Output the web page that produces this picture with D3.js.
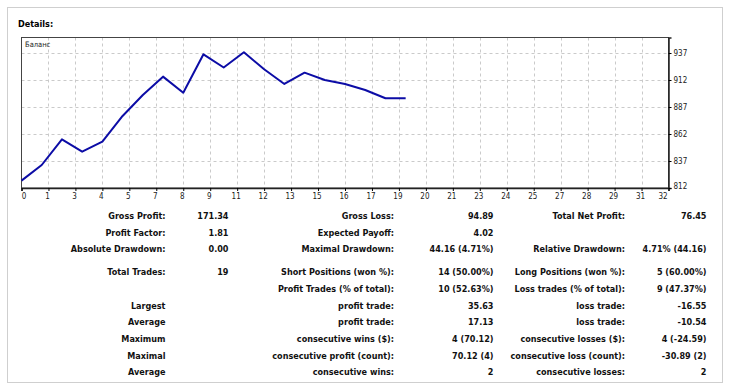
<!DOCTYPE html>
<html>
<head>
<meta charset="utf-8">
<script src="https://cdn.jsdelivr.net/npm/d3@7"></script>
<style>
  body { margin: 0; background: #fff; }
  svg text { font-family: Tahoma, "DejaVu Sans Condensed", "DejaVu Sans", sans-serif; }
</style>
</head>
<body>
<div id="chart"></div>
<script>
// balance after each trade (index 0 = start)
var balance = [818.8, 833.3, 857.1, 845.6, 854.9, 878.7, 898.1, 915.1, 900.2, 935.8,
               923.6, 937.7, 921.9, 908.3, 918.8, 912.0, 908.3, 902.7, 895.1, 895.1];

var xTickLabels = [0, 1, 3, 4, 5, 7, 8, 9, 11, 12, 13, 15, 16, 17, 19, 20, 21, 23, 24, 25, 27, 28, 29, 31, 32];
var yTickValues = [812, 837, 862, 887, 912, 937];

var statsRows = [
  ["Gross Profit:", "171.34", "Gross Loss:", "94.89", "Total Net Profit:", "76.45"],
  ["Profit Factor:", "1.81", "Expected Payoff:", "4.02", "", ""],
  ["Absolute Drawdown:", "0.00", "Maximal Drawdown:", "44.16 (4.71%)", "Relative Drawdown:", "4.71% (44.16)"],
  ["Total Trades:", "19", "Short Positions (won %):", "14 (50.00%)", "Long Positions (won %):", "5 (60.00%)"],
  ["", "", "Profit Trades (% of total):", "10 (52.63%)", "Loss trades (% of total):", "9 (47.37%)"],
  ["Largest", "", "profit trade:", "35.63", "loss trade:", "-16.55"],
  ["Average", "", "profit trade:", "17.13", "loss trade:", "-10.54"],
  ["Maximum", "", "consecutive wins ($):", "4 (70.12)", "consecutive losses ($):", "4 (-24.59)"],
  ["Maximal", "", "consecutive profit (count):", "70.12 (4)", "consecutive loss (count):", "-30.89 (2)"],
  ["Average", "", "consecutive wins:", "2", "consecutive losses:", "2"]
];

const WIDTH = 729;
const HEIGHT = 389;

const PLOT_LEFT = 21.5;
const PLOT_RIGHT = 668.5;
const PLOT_TOP = 37.5;
const PLOT_BOTTOM = 188;

// right edges of the six table columns
const COL_X = [165.5, 228.5, 394, 493.5, 625, 706.5];

var svg = d3.select("#chart")
    .append("svg")
    .attr("width", WIDTH)
    .attr("height", HEIGHT);

// outer panel
svg.append("rect")
    .attr("x", 7.5).attr("y", 7.5)
    .attr("width", 715).attr("height", 375)
    .attr("fill", "none")
    .attr("stroke", "#cfcfcf");

svg.append("text")
    .attr("x", 18).attr("y", 26.5)
    .style("font-size", "9px")
    .style("font-weight", "bold")
    .text("Details:");

var xScale = d3.scaleLinear().domain([0, 32]).range([PLOT_LEFT, PLOT_RIGHT]),
    yScale = d3.scaleLinear().domain([812, 812 + (PLOT_BOTTOM - PLOT_TOP) * 25 / 27]).range([PLOT_BOTTOM, PLOT_TOP]);

// grid positions for the x labels (24 equal steps over 0..32)
var xGridValues = xTickLabels.map(function (d, i) { return i * 32 / 24; });

var grid = svg.append("g")
    .attr("stroke", "#cacaca")
    .attr("stroke-dasharray", "3,3");

grid.selectAll(".vgrid")
    .data(xGridValues.slice(1, -1))
    .enter().append("line")
    .attr("x1", function (d) { return Math.round(xScale(d)) + 0.5; })
    .attr("x2", function (d) { return Math.round(xScale(d)) + 0.5; })
    .attr("y1", PLOT_TOP)
    .attr("y2", PLOT_BOTTOM);

grid.selectAll(".hgrid")
    .data(yTickValues.slice(1))
    .enter().append("line")
    .attr("x1", PLOT_LEFT)
    .attr("x2", PLOT_RIGHT)
    .attr("y1", function (d) { return Math.round(yScale(d)) + 0.5; })
    .attr("y2", function (d) { return Math.round(yScale(d)) + 0.5; });

// frame
svg.append("rect")
    .attr("x", PLOT_LEFT).attr("y", PLOT_TOP)
    .attr("width", PLOT_RIGHT - PLOT_LEFT)
    .attr("height", PLOT_BOTTOM - PLOT_TOP)
    .attr("fill", "none")
    .attr("stroke", "#444");

// x axis
var xAxis = svg.append("g")
    .attr("transform", "translate(0," + PLOT_BOTTOM + ")")
    .call(d3.axisBottom(xScale)
        .tickValues(xGridValues)
        .tickSize(3)
        .tickPadding(2)
        .tickFormat(function (d, i) { return xTickLabels[i]; }));
xAxis.select(".domain").attr("stroke", "#222").attr("stroke-width", 1.5);
xAxis.selectAll("text")
    .style("font-size", "8px")
    .attr("fill", "#222")
    .attr("dx", function (d, i) { return i === 0 ? 2 : (i === xTickLabels.length - 1 ? -6 : -1.5); });

// y axis (right side)
var yAxis = svg.append("g")
    .attr("transform", "translate(" + PLOT_RIGHT + ",0)")
    .call(d3.axisRight(yScale)
        .tickValues(yTickValues)
        .tickSize(3)
        .tickPadding(2));
yAxis.select(".domain").attr("stroke", "#222").attr("stroke-width", 1.5);
yAxis.selectAll("text")
    .style("font-size", "8px")
    .attr("fill", "#222")
    .attr("dy", function (d, i) { return i === 0 ? "0.05em" : "0.25em"; });

svg.append("text")
    .attr("x", 25).attr("y", 47)
    .style("font-size", "7.5px")
    .attr("fill", "#222")
    .text("Баланс");

// balance line
var line = d3.line()
    .x(function (d, i) { return xScale(i); })
    .y(function (d) { return yScale(d); });

svg.append("path")
    .datum(balance)
    .attr("d", line)
    .attr("fill", "none")
    .attr("stroke", "#0c0ca6")
    .attr("stroke-width", 2)
    .attr("stroke-linejoin", "round");

// stats table
function rowY(i) { return 215.7 + i * 16.7 + (i >= 3 ? 6.3 : 0); }

var rows = svg.append("g").selectAll("g")
    .data(statsRows)
    .enter().append("g")
    .attr("transform", function (d, i) { return "translate(0," + rowY(i) + ")"; });

rows.selectAll("text")
    .data(function (d) { return d; })
    .enter().append("text")
    .attr("x", function (d, j) { return COL_X[j]; })
    .attr("dy", "0.35em")
    .attr("text-anchor", "end")
    .style("font-size", "9px")
    .style("font-weight", "bold")
    .attr("fill", "#111")
    .text(function (d) { return d; });
</script>
</body>
</html>
